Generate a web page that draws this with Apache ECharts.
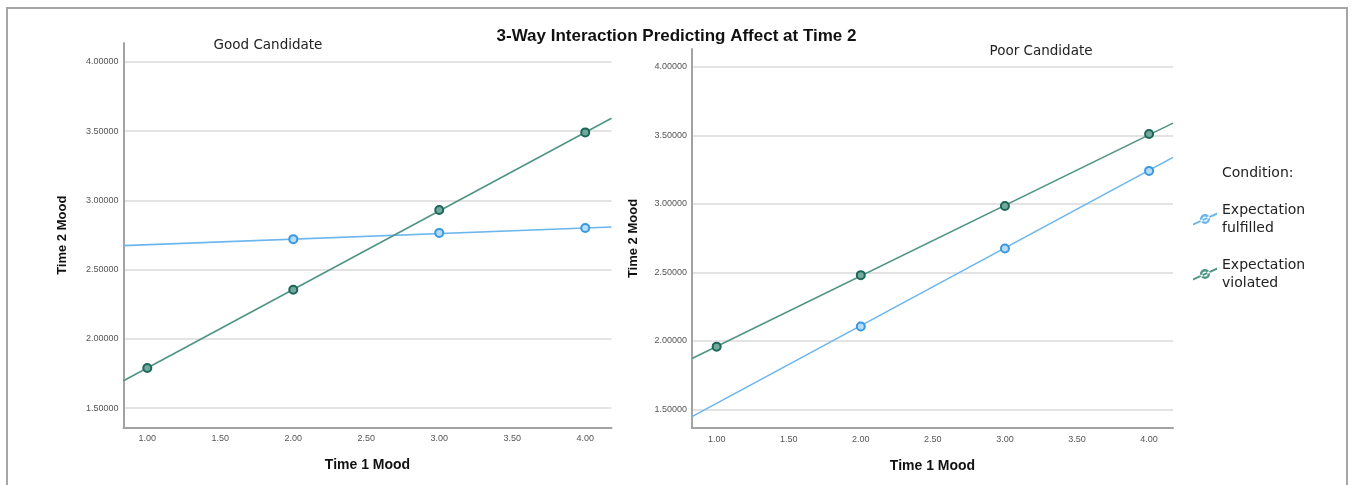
<!DOCTYPE html>
<html><head><meta charset="utf-8">
<script src="https://cdn.jsdelivr.net/npm/echarts@6/dist/echarts.min.js"></script>
<style>html,body{margin:0;padding:0;background:#fff}#c{width:1353px;height:485px}</style>
</head><body><div id="c"></div>
<script>
// ---- data ----
const chartTitle = '3-Way Interaction Predicting Affect at Time 2';
const panelTitles = ['Good Candidate', 'Poor Candidate'];
const conditions = ['Expectation fulfilled', 'Expectation violated'];
const legendTitle = 'Condition:';
const xAxisName = 'Time 1 Mood';
const yAxisName = 'Time 2 Mood';
const xTickValues = [1.0, 1.5, 2.0, 2.5, 3.0, 3.5, 4.0];
const yTickValues = [1.5, 2.0, 2.5, 3.0, 3.5, 4.0];

// observed points
const goodFulfilledX = [2, 3, 4];
const goodFulfilledY = [2.72, 2.765, 2.80];
const goodViolatedX = [1, 2, 3, 4];
const goodViolatedY = [1.79, 2.355, 2.93, 3.49];
const poorFulfilledX = [2, 3, 4];
const poorFulfilledY = [2.105, 2.675, 3.241];
const poorViolatedX = [1, 2, 3, 4];
const poorViolatedY = [1.958, 2.48, 2.985, 3.51];

// fit lines: values read at the left and right edges of each panel
const goodFitX = [0.837, 4.18];
const goodFulfilledFitY = [2.673, 2.807];
const goodViolatedFitY = [1.698, 3.592];
const poorFitX = [0.829, 4.166];
const poorFulfilledFitY = [1.447, 3.34];
const poorViolatedFitY = [1.872, 3.59];

// ---- helpers ----
const zip = (xs, ys) => xs.map((x, i) => [x, ys[i]]);
const BLUE_LINE = '#6cb6ee', BLUE_FILL = '#b5dcf8', BLUE_EDGE = '#3a98e2';
const TEAL_LINE = '#4f9485', TEAL_FILL = '#73a99c', TEAL_EDGE = '#1d6759';
const SANS = 'Liberation Sans, Arial, sans-serif';
const WIDE = 'DejaVu Sans, sans-serif';

function xAxis(gi, min, max) {
  return {
    type: 'value', gridIndex: gi, min: min, max: max,
    name: xAxisName, nameLocation: 'middle', nameGap: 31,
    nameTextStyle: { fontFamily: SANS, fontSize: 14, fontWeight: 'bold', color: '#111' },
    axisLine: { show: true, onZero: false, lineStyle: { color: '#a3a3a3', width: 2 } },
    axisTick: { show: false, customValues: xTickValues },
    axisLabel: { customValues: xTickValues, margin: 7, fontFamily: SANS, fontSize: 9, color: '#555',
      formatter: v => Number(v).toFixed(2) },
    splitLine: { show: false }
  };
}
function yAxis(gi, min, max, gap) {
  return {
    type: 'value', gridIndex: gi, min: min, max: max,
    name: yAxisName, nameLocation: 'middle', nameGap: gap,
    nameTextStyle: { fontFamily: SANS, fontSize: 13, fontWeight: 'bold', color: '#111' },
    axisLine: { show: true, onZero: false, lineStyle: { color: '#a3a3a3', width: 2 } },
    axisTick: { show: false, customValues: yTickValues },
    axisLabel: { customValues: yTickValues, margin: 5, fontFamily: SANS, fontSize: 9, color: '#555',
      formatter: v => Number(v).toFixed(5) },
    splitLine: { show: true, lineStyle: { color: '#dadada', width: 1.5 } }
  };
}
function fitSeries(gi, name, xs, ys, color) {
  return { type: 'line', name: name, xAxisIndex: gi, yAxisIndex: gi, data: zip(xs, ys),
    showSymbol: false, symbol: 'none', silent: true, z: 2,
    lineStyle: { color: color, width: 1.6 }, itemStyle: { color: color } };
}
function pointSeries(gi, name, xs, ys, fill, edge) {
  return { type: 'scatter', name: name, xAxisIndex: gi, yAxisIndex: gi, data: zip(xs, ys),
    symbol: 'circle', symbolSize: 8, z: 3,
    itemStyle: { color: fill, borderColor: edge, borderWidth: 2, opacity: 1 } };
}

const iconPath = 'path://M0,12 L24,1 L24,3.2 L0,14 Z ' +
  'M17,7.5 A5,5 0 1 0 7,7.5 A5,5 0 1 0 17,7.5 Z M14.6,7.5 A2.6,2.6 0 1 1 9.4,7.5 A2.6,2.6 0 1 1 14.6,7.5 Z';

const option = {
  backgroundColor: '#ffffff',
  animation: false,
  title: { text: chartTitle, left: 'center', top: 23,
    textStyle: { fontFamily: SANS, fontSize: 17, fontWeight: 'bold', color: '#111' } },
  grid: [
    { left: 123.5, top: 43, width: 488, height: 384.5 },
    { left: 692, top: 49, width: 481, height: 379 }
  ],
  xAxis: [xAxis(0, 0.837, 4.18), xAxis(1, 0.829, 4.166)],
  yAxis: [yAxis(0, 1.361, 4.135, 55), yAxis(1, 1.364, 4.131, 52)],
  legend: {
    orient: 'vertical', left: 1193, top: 201, padding: 0,
    itemWidth: 24, itemHeight: 14, itemGap: 19,
    textStyle: { fontFamily: WIDE, fontSize: 14, lineHeight: 18, color: '#222' },
    formatter: n => n.replace(' ', '\n'),
    data: [
      { name: conditions[0], icon: iconPath, itemStyle: { color: BLUE_LINE, borderWidth: 0 } },
      { name: conditions[1], icon: iconPath, itemStyle: { color: TEAL_LINE, borderWidth: 0 } }
    ]
  },
  graphic: [
    { type: 'rect', shape: { x: 7, y: 8, width: 1340, height: 500 }, silent: true,
      style: { fill: 'none', stroke: '#a6a6a6', lineWidth: 2 }, z: -10 },
    { type: 'text', x: 268, y: 45, silent: true,
      style: { text: panelTitles[0], fontFamily: WIDE, fontSize: 13.5, fill: '#222', align: 'center', verticalAlign: 'middle' } },
    { type: 'text', x: 1041, y: 51, silent: true,
      style: { text: panelTitles[1], fontFamily: WIDE, fontSize: 13.5, fill: '#222', align: 'center', verticalAlign: 'middle' } },
    { type: 'text', x: 1222, y: 173, silent: true,
      style: { text: legendTitle, fontFamily: WIDE, fontSize: 14, fill: '#222', align: 'left', verticalAlign: 'middle' } }
  ],
  series: [
    fitSeries(0, conditions[0], goodFitX, goodFulfilledFitY, BLUE_LINE),
    fitSeries(0, conditions[1], goodFitX, goodViolatedFitY, TEAL_LINE),
    pointSeries(0, conditions[0], goodFulfilledX, goodFulfilledY, BLUE_FILL, BLUE_EDGE),
    pointSeries(0, conditions[1], goodViolatedX, goodViolatedY, TEAL_FILL, TEAL_EDGE),
    fitSeries(1, conditions[0], poorFitX, poorFulfilledFitY, BLUE_LINE),
    fitSeries(1, conditions[1], poorFitX, poorViolatedFitY, TEAL_LINE),
    pointSeries(1, conditions[0], poorFulfilledX, poorFulfilledY, BLUE_FILL, BLUE_EDGE),
    pointSeries(1, conditions[1], poorViolatedX, poorViolatedY, TEAL_FILL, TEAL_EDGE)
  ]
};
const chart = echarts.init(document.getElementById('c'), null, { renderer: 'canvas' });
chart.setOption(option);
</script>
</body></html>
